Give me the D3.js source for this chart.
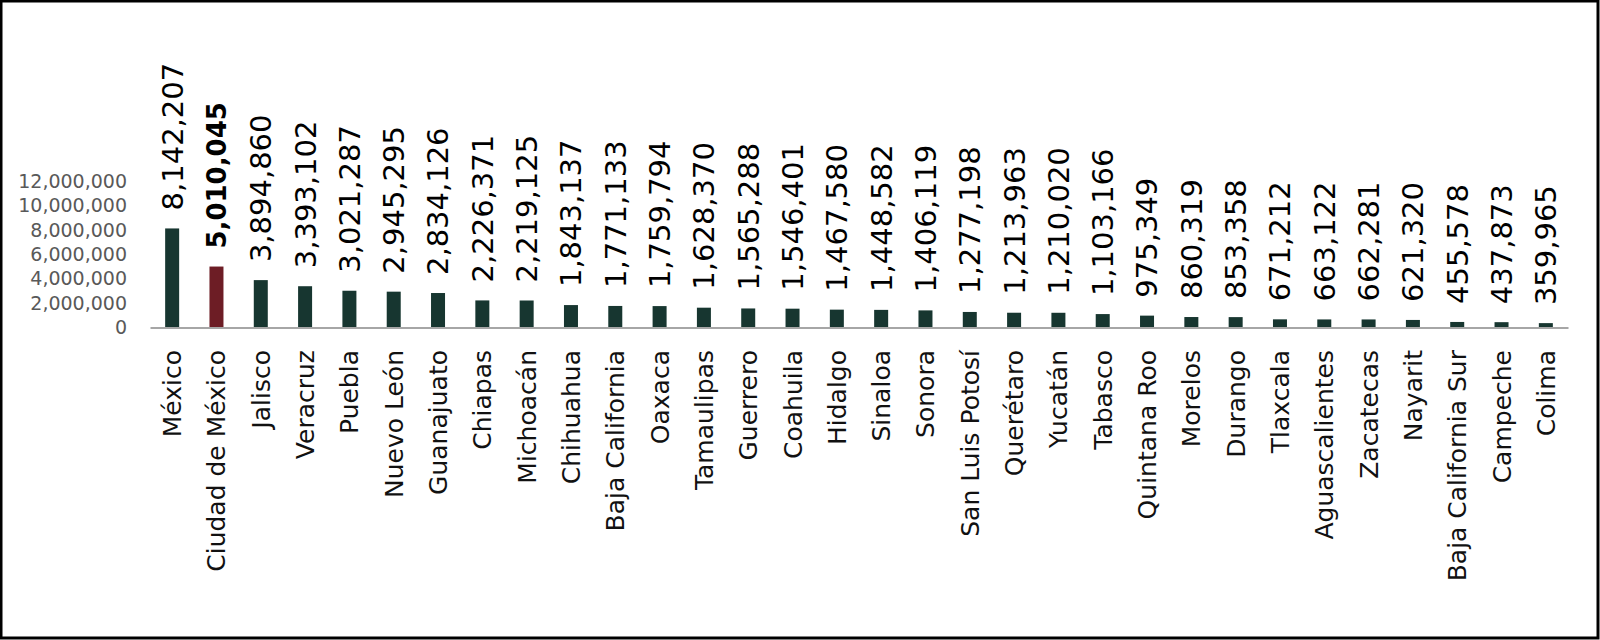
<!DOCTYPE html>
<html>
<head>
<meta charset="utf-8">
<script src="https://cdn.jsdelivr.net/npm/d3@7/dist/d3.min.js"></script>
<style>
  html, body { margin: 0; padding: 0; background: #fff; }
  svg { display: block; }
</style>
</head>
<body>
<svg id="chart" width="1600" height="640"></svg>
<script>
const states = ["México","Ciudad de México","Jalisco","Veracruz","Puebla","Nuevo León","Guanajuato","Chiapas","Michoacán","Chihuahua","Baja California","Oaxaca","Tamaulipas","Guerrero","Coahuila","Hidalgo","Sinaloa","Sonora","San Luis Potosí","Querétaro","Yucatán","Tabasco","Quintana Roo","Morelos","Durango","Tlaxcala","Aguascalientes","Zacatecas","Nayarit","Baja California Sur","Campeche","Colima"];
const values = [8142207,5010045,3894860,3393102,3021287,2945295,2834126,2226371,2219125,1843137,1771133,1759794,1628370,1565288,1546401,1467580,1448582,1406119,1277198,1213963,1210020,1103166,975349,860319,853358,671212,663122,662281,621320,455578,437873,359965];
const highlight = ["Ciudad de México"];
const yTicks = [0,2000000,4000000,6000000,8000000,10000000,12000000];

const data = states.map((s, i) => ({ state: s, value: values[i] }));
const svg = d3.select("#chart");
const W = 1600, H = 640;
const font = "'DejaVu Sans', sans-serif";
const fmt = d3.format(",");

svg.append("rect").attr("x", 0).attr("y", 0).attr("width", W).attr("height", H).attr("fill", "#fff");

const x = d3.scaleBand().domain(states).range([150, 1568]).paddingInner(0.684).paddingOuter(0.342);
const y = d3.scaleLinear().domain([0, 12000000]).range([327.5, 181.5]);

// y axis (labels only)
const yAxis = svg.append("g").attr("transform", "translate(150,0)")
  .call(d3.axisLeft(y).tickValues(yTicks).tickFormat(fmt).tickSize(0).tickPadding(23));
yAxis.select(".domain").remove();
yAxis.selectAll("text").attr("font-family", font).attr("font-size", 19).attr("fill", "#595959");

// bars
svg.append("g").selectAll("rect").data(data).join("rect")
  .attr("x", d => x(d.state))
  .attr("y", d => y(d.value))
  .attr("width", x.bandwidth())
  .attr("height", d => y(0) - y(d.value))
  .attr("fill", d => highlight.includes(d.state) ? "#6d1d25" : "#173630");

// x axis baseline + category labels
const xAxis = svg.append("g").attr("transform", `translate(0,${y(0)})`)
  .call(d3.axisBottom(x).tickSize(0).tickPadding(0));
xAxis.select(".domain").attr("stroke", "#a6a6a6").attr("stroke-width", 2);
xAxis.selectAll(".tick text")
  .attr("font-family", font).attr("font-size", 25).attr("fill", "#111")
  .attr("text-anchor", "end")
  .attr("transform", "translate(0,22.5) rotate(-90)")
  .attr("x", 0).attr("y", 0).attr("dy", "0.36em");

// value labels
svg.append("g").selectAll("text").data(data).join("text")
  .attr("transform", d => `translate(${x(d.state) + x.bandwidth() / 2},${y(d.value) - 18}) rotate(-90)`)
  .attr("dy", "0.36em")
  .attr("text-anchor", "start")
  .attr("font-family", font)
  .attr("font-size", d => highlight.includes(d.state) ? 26 : 29)
  .attr("font-weight", d => highlight.includes(d.state) ? "bold" : "normal")
  .attr("fill", "#000")
  .text(d => fmt(d.value));

// frame
svg.append("rect").attr("x", 1).attr("y", 1).attr("width", W - 3).attr("height", H - 3)
  .attr("fill", "none").attr("stroke", "#000").attr("stroke-width", 3);
</script>
</body>
</html>
